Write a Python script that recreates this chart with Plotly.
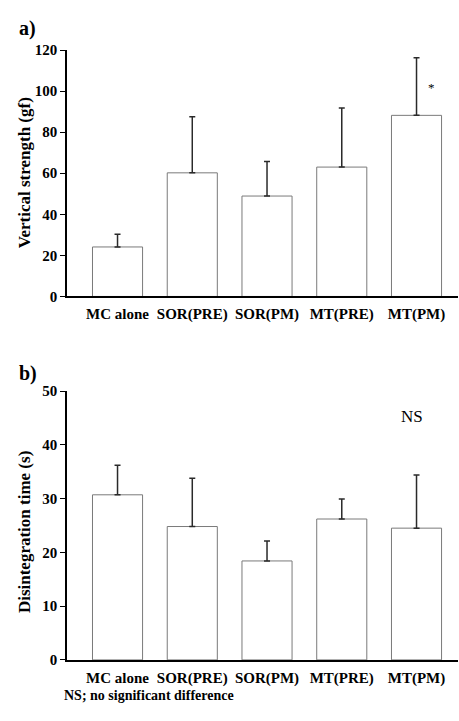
import plotly.graph_objects as go

categories = ["MC alone", "SOR(PRE)", "SOR(PM)", "MT(PRE)", "MT(PM)"]

strength_mean = [24.1, 60.2, 48.9, 63.0, 88.2]
strength_sd = [6.2, 27.3, 16.8, 28.8, 28.0]

disint_mean = [30.7, 24.8, 18.4, 26.2, 24.5]
disint_sd = [5.5, 9.0, 3.7, 3.7, 9.9]

strength_ticks = [0, 20, 40, 60, 80, 100, 120]
disint_ticks = [0, 10, 20, 30, 40, 50]

W, H = 459, 721
SERIF = "Liberation Serif"

def py(p):
    return 1 - p / H

fig = go.Figure()

for means, sds, xa, ya in [(strength_mean, strength_sd, "x", "y"),
                           (disint_mean, disint_sd, "x2", "y2")]:
    fig.add_trace(go.Bar(
        x=categories, y=means, xaxis=xa, yaxis=ya,
        marker=dict(color="white", line=dict(color="#7a7a7a", width=1)),
        error_y=dict(type="data", array=sds, arrayminus=[0] * len(sds),
                     symmetric=False, color="#2a2a2a", thickness=1.5, width=3),
        showlegend=False,
    ))

xcommon = dict(
    type="category", range=[-0.676, 4.555],
    showline=True, linecolor="black", linewidth=1.5,
    ticks="outside", ticklen=3, tickcolor="rgba(0,0,0,0)",
    tickfont=dict(family=SERIF, size=15, color="black", weight="bold"),
    showgrid=False, zeroline=False, domain=[67 / W, 458 / W],
)
ycommon = dict(
    showline=True, linecolor="black", linewidth=1.5,
    ticks="outside", ticklen=5, tickwidth=1, tickcolor="black",
    tickfont=dict(family=SERIF, size=15, color="black", weight="bold"),
    showgrid=False, zeroline=False,
)

fig.update_layout(
    width=W, height=H, margin=dict(l=0, r=0, t=0, b=0),
    paper_bgcolor="white", plot_bgcolor="white",
    bargap=0.33,
    xaxis=dict(**xcommon, anchor="y"),
    xaxis2=dict(**xcommon, anchor="y2"),
    yaxis=dict(**ycommon, anchor="x", range=[0, 120], tickvals=strength_ticks,
               domain=[py(295), py(43)]),
    yaxis2=dict(**ycommon, anchor="x2", range=[0, 50], tickvals=disint_ticks,
                domain=[py(666.7), py(391.7)]),
)

ann = []
ann.append(dict(text="a)", x=17 / W, y=py(21), xref="paper", yref="paper",
                xanchor="left", yanchor="middle", showarrow=False,
                font=dict(family=SERIF, size=20, color="black", weight="bold")))
ann.append(dict(text="b)", x=17 / W, y=py(374), xref="paper", yref="paper",
                xanchor="left", yanchor="middle", showarrow=False,
                font=dict(family=SERIF, size=20, color="black", weight="bold")))
ann.append(dict(text="Vertical strength (gf)", x=24 / W, y=py(169),
                xref="paper", yref="paper", textangle=-90,
                xanchor="center", yanchor="middle", showarrow=False,
                font=dict(family=SERIF, size=17, color="black", weight="bold")))
ann.append(dict(text="Disintegration time (s)", x=24 / W, y=py(536),
                xref="paper", yref="paper", textangle=-90,
                xanchor="center", yanchor="middle", showarrow=False,
                font=dict(family=SERIF, size=17, color="black", weight="bold")))
ann.append(dict(text="*", x=4.2, y=102, xref="x", yref="y", showarrow=False,
                xanchor="center", yanchor="middle",
                font=dict(family=SERIF, size=13, color="black")))
ann.append(dict(text="NS", x=3.94, y=45.3, xref="x2", yref="y2", showarrow=False,
                xanchor="center", yanchor="middle",
                font=dict(family=SERIF, size=17, color="black")))
ann.append(dict(text="NS; no significant difference", x=62 / W, y=py(703),
                xref="paper", yref="paper", showarrow=False,
                xanchor="left", yanchor="middle",
                font=dict(family=SERIF, size=14, color="black", weight="bold")))
fig.update_layout(annotations=ann)

fig.write_html("out.html")
